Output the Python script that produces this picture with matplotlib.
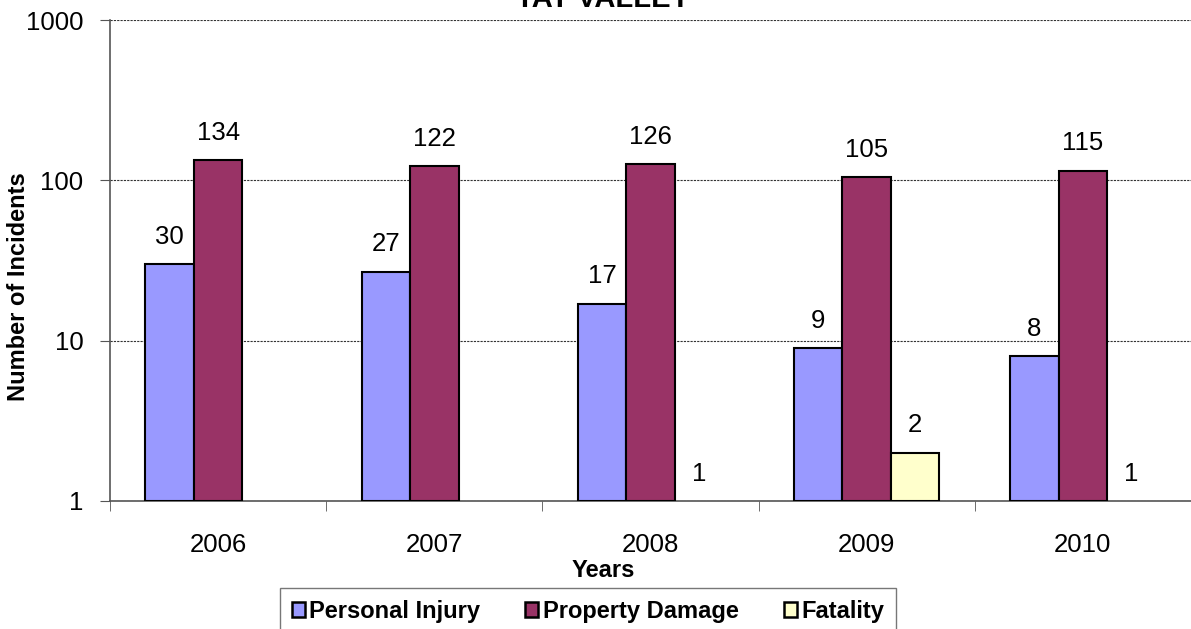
import matplotlib.pyplot as plt
import numpy as np
from matplotlib.patches import Patch

years = ["2006", "2007", "2008", "2009", "2010"]
personal_injury = [30, 27, 17, 9, 8]
property_damage = [134, 122, 126, 105, 115]
fatality = [0, 0, 1, 2, 1]

series_names = ["Personal Injury", "Property Damage", "Fatality"]
colors = ["#9999FF", "#993366", "#FFFFCC"]

plt.rcParams['font.family'] = ['Liberation Sans', 'DejaVu Sans']

fig = plt.figure(figsize=(11.91, 6.29), dpi=100)
ax = fig.add_axes([110/1191, 1-501/629, 1-110/1191, 481/629])

x = np.arange(len(years))
w = 0.224
all_series = [personal_injury, property_damage, fatality]
for i, (vals, c) in enumerate(zip(all_series, colors)):
    pos = x + (i - 1) * w
    for p, v in zip(pos, vals):
        if v <= 0:
            continue
        if v > 1:
            ax.bar(p, v - 1, bottom=1, width=w, color=c, edgecolor='black', linewidth=1.5, zorder=3)
        ax.annotate(str(v), (p, v), xytext=(0, 11), textcoords='offset points',
                    ha='center', va='bottom', fontsize=18.5)

ax.set_yscale('log')
ax.set_ylim(1, 1000)
ax.set_xlim(-0.5, len(years) - 0.5)
ax.set_yticks([1, 10, 100, 1000])
ax.set_yticklabels(["1", "10", "100", "1000"])
ax.yaxis.set_minor_locator(plt.NullLocator())
ax.tick_params(axis='y', which='major', length=7, pad=12, labelsize=18.5, color='#555555')

ax.set_xticks(x)
ax.set_xticklabels(years)
ax.set_xticks(np.arange(len(years) + 1) - 0.5, minor=True)
ax.tick_params(axis='x', which='major', length=0, pad=23, labelsize=18.5)
ax.tick_params(axis='x', which='minor', length=7, color='#555555')

ax.grid(axis='y', which='major', linestyle=(0, (2, 1)), color='#333333', linewidth=0.8, zorder=0)
for s in ['top', 'right']:
    ax.spines[s].set_visible(False)
for s in ['left', 'bottom']:
    ax.spines[s].set_color('#555555')
    ax.spines[s].set_linewidth(1.2)

ax.set_ylabel("Number of Incidents", fontsize=17, fontweight='bold', va='center')
ax.yaxis.set_label_coords(-0.085, 0.445)
ax.set_xlabel("Years", fontsize=17, fontweight='bold', va='center')
ax.xaxis.set_label_coords(0.456, -0.1455)

fig.text(0.506, 1 - 7/629, "TAY VALLEY", ha='center', va='baseline', fontsize=21, fontweight='bold')

handles = [Patch(facecolor=c, edgecolor='black', linewidth=1.8) for c in colors]
leg = fig.legend(handles, series_names, loc='upper center', bbox_to_anchor=(588/1191, 1 - 588/629),
                 ncol=3, frameon=True, fancybox=False, prop={'weight': 'bold', 'size': 17},
                 handlelength=0.55, handleheight=0.55, handletextpad=0.2, columnspacing=1.9,
                 borderpad=0.5, borderaxespad=0)
leg.get_frame().set_edgecolor('#555555')
leg.get_frame().set_linewidth(1.0)

fig.savefig("out.png", dpi=100)
